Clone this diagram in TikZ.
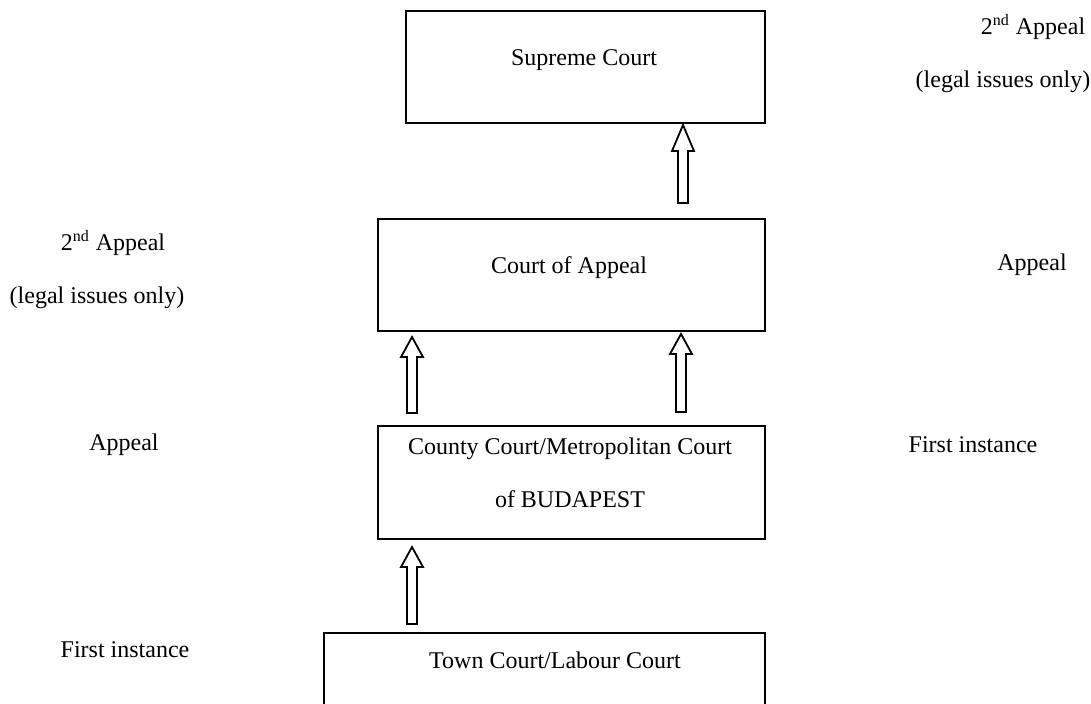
\documentclass[tikz,border=0pt]{standalone}
\usepackage{fontspec}
\setmainfont{Liberation Serif}
\newcommand\blockup[3]{%
  \draw[blk] ([xshift=-2.5pt]#1) -- ([xshift=-2.5pt,yshift=-#3]#2) -- ([xshift=-5.5pt,yshift=-#3]#2) -- (#2)
    -- ([xshift=5.5pt,yshift=-#3]#2) -- ([xshift=2.5pt,yshift=-#3]#2) -- ([xshift=2.5pt]#1) -- cycle;}
\begin{document}
\begin{tikzpicture}[x=0.5pt,y=-0.5pt,
  box/.style={draw, line width=0.8pt, inner sep=0pt, anchor=north west},
  lbl/.style={font=\fontsize{12}{14}\selectfont, inner sep=0pt, align=center},
  blk/.style={draw, line width=0.9pt, fill=white, line join=miter}]
\useasboundingbox (0,0) rectangle (1091,704);
\clip (0,0) rectangle (1091,704);
% boxes
\node[box, minimum width=179.5pt, minimum height=56pt] (sup) at (405,10) {};
\node[box, minimum width=193.5pt, minimum height=56pt] (coa) at (377,218) {};
\node[box, minimum width=193.5pt, minimum height=56.5pt] (cty) at (377,425) {};
\node[box, minimum width=220.5pt, minimum height=100pt] (town) at (323,632) {};
% box texts
\node[lbl] (supT) at (584,60) {Supreme Court};
\node[lbl] (coaT) at (569,268) {Court of Appeal};
\node[lbl, font=\fontsize{12}{26.5}\selectfont] (ctyT) at (570,473) {County Court/Metropolitan Court\\of BUDAPEST};
\node[lbl] (townT) at (555,660) {Town Court/Labour Court};
% side labels
\node[lbl] (r1a) at (1033,27) {2\textsuperscript{nd} Appeal};
\node[lbl] (r1b) at (1003,82) {(legal issues only)};
\node[lbl] (r2) at (1032,265) {Appeal};
\node[lbl] (r3) at (973,445) {First instance};
\node[lbl] (l1a) at (113,243) {2\textsuperscript{nd} Appeal};
\node[lbl] (l1b) at (97,298) {(legal issues only)};
\node[lbl] (l2) at (124,445) {Appeal};
\node[lbl] (l3) at (125,650) {First instance};
% arrow end points
\coordinate (a1b) at (683,203); \coordinate (a1t) at (683,125);
\coordinate (a2b) at (412,413); \coordinate (a2t) at (412,337);
\coordinate (a3b) at (681,412); \coordinate (a3t) at (681,334);
\coordinate (a4b) at (412,624); \coordinate (a4t) at (412,547);
\blockup{a1b}{a1t}{13pt}
\blockup{a2b}{a2t}{10pt}
\blockup{a3b}{a3t}{10pt}
\blockup{a4b}{a4t}{10pt}
\end{tikzpicture}
\end{document}
